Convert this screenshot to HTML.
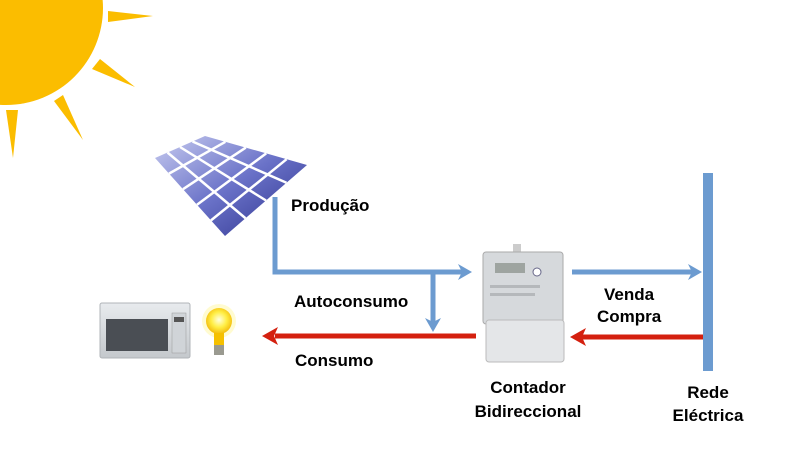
<!DOCTYPE html>
<html><head><meta charset="utf-8"><style>
html,body{margin:0;padding:0;background:#fff;}
svg{display:block}
text{font-family:"Liberation Sans",Arial,sans-serif;font-weight:bold;font-size:17px;fill:#000}
</style></head><body>
<svg width="785" height="450" viewBox="0 0 785 450" xmlns="http://www.w3.org/2000/svg">
<defs>
<linearGradient id="pg" x1="0" y1="0" x2="1" y2="1">
<stop offset="0" stop-color="#c8ccf0"/><stop offset="0.5" stop-color="#6a72c8"/><stop offset="1" stop-color="#2a2f8a"/>
</linearGradient>
<radialGradient id="bg" cx="0.5" cy="0.45" r="0.6">
<stop offset="0" stop-color="#ffffe0"/><stop offset="0.5" stop-color="#ffee44"/><stop offset="1" stop-color="#f0b000"/>
</radialGradient>
<linearGradient id="mg" x1="0" y1="0" x2="0" y2="1">
<stop offset="0" stop-color="#e8ebee"/><stop offset="1" stop-color="#c4c8cc"/>
</linearGradient>
</defs>
<circle cx="6" cy="8" r="97" fill="#fbbd00"/>
<polygon points="108,11 108,22 153,16" fill="#fbbd00"/>
<polygon points="92,69 100,59 135,87" fill="#fbbd00"/>
<polygon points="54,101 63,95 83,140" fill="#fbbd00"/>
<polygon points="6,110 18,110 13,158" fill="#fbbd00"/>
<polygon points="155,158 205,136 307,165 225,236" fill="url(#pg)"/>
<g stroke="#fff" stroke-width="2.5">
<line x1="167.5" y1="152.5" x2="245.5" y2="218.25"/>
<line x1="180" y1="147" x2="266" y2="200.5"/>
<line x1="192.5" y1="141.5" x2="286.5" y2="182.75"/>
<line x1="169" y1="173.6" x2="225.4" y2="141.8"/>
<line x1="183" y1="189.2" x2="245.8" y2="147.6"/>
<line x1="197" y1="204.8" x2="266.2" y2="153.4"/>
<line x1="211" y1="220.4" x2="286.6" y2="159.2"/>
</g>
<g stroke="#6c9bd0" stroke-width="5" fill="none">
<polyline points="275,197 275,272 462,272"/>
<line x1="433" y1="272" x2="433" y2="325"/>
<line x1="572" y1="272" x2="694" y2="272"/>
</g>
<polygon points="458,264 472,272 458,280 462,272" fill="#6c9bd0"/>
<polygon points="425,318 433,332 441,318 433,322" fill="#6c9bd0"/>
<polygon points="688,264 702,272 688,280 692,272" fill="#6c9bd0"/>
<g stroke="#d4200f" stroke-width="5">
<line x1="275" y1="336" x2="476" y2="336"/>
<line x1="582" y1="337" x2="705" y2="337"/>
</g>
<polygon points="278,327 262,336 278,345 274,336" fill="#d4200f"/>
<polygon points="586,328 570,337 586,346 582,337" fill="#d4200f"/>
<rect x="703" y="173" width="10" height="198" fill="#6c9bd0"/>
<rect x="100" y="303" width="90" height="55" rx="2" fill="url(#mg)" stroke="#b0b4b8"/>
<rect x="106" y="319" width="62" height="32" fill="#4a4e54"/>
<rect x="172" y="313" width="14" height="40" fill="#d0d4d8" stroke="#999" stroke-width="0.5"/>
<rect x="174" y="317" width="10" height="5" fill="#555"/>
<circle cx="219" cy="321" r="17" fill="#fff8b0" opacity="0.6"/>
<circle cx="219" cy="321" r="13" fill="url(#bg)"/>
<rect x="214" y="333" width="10" height="12" fill="#f5c000"/>
<rect x="214" y="345" width="10" height="10" fill="#9a9a90"/>
<rect x="513" y="244" width="8" height="8" fill="#ccc"/>
<rect x="483" y="252" width="80" height="72" rx="3" fill="#d6d9dc" stroke="#aaa"/>
<rect x="495" y="263" width="30" height="10" fill="#9ea4a0"/>
<circle cx="537" cy="272" r="4" fill="#fff" stroke="#668"/>
<rect x="490" y="285" width="50" height="3" fill="#b5b8bb"/>
<rect x="490" y="293" width="45" height="3" fill="#b5b8bb"/>
<rect x="486" y="320" width="78" height="42" rx="3" fill="#e4e6e8" stroke="#bbb"/>
<text x="291" y="211">Produção</text>
<text x="294" y="307">Autoconsumo</text>
<text x="295" y="366">Consumo</text>
<text x="604" y="300">Venda</text>
<text x="597" y="322">Compra</text>
<text x="528" y="393" text-anchor="middle">Contador</text>
<text x="528" y="417" text-anchor="middle">Bidireccional</text>
<text x="708" y="398" text-anchor="middle">Rede</text>
<text x="708" y="421" text-anchor="middle">Eléctrica</text>
</svg>
</body></html>
